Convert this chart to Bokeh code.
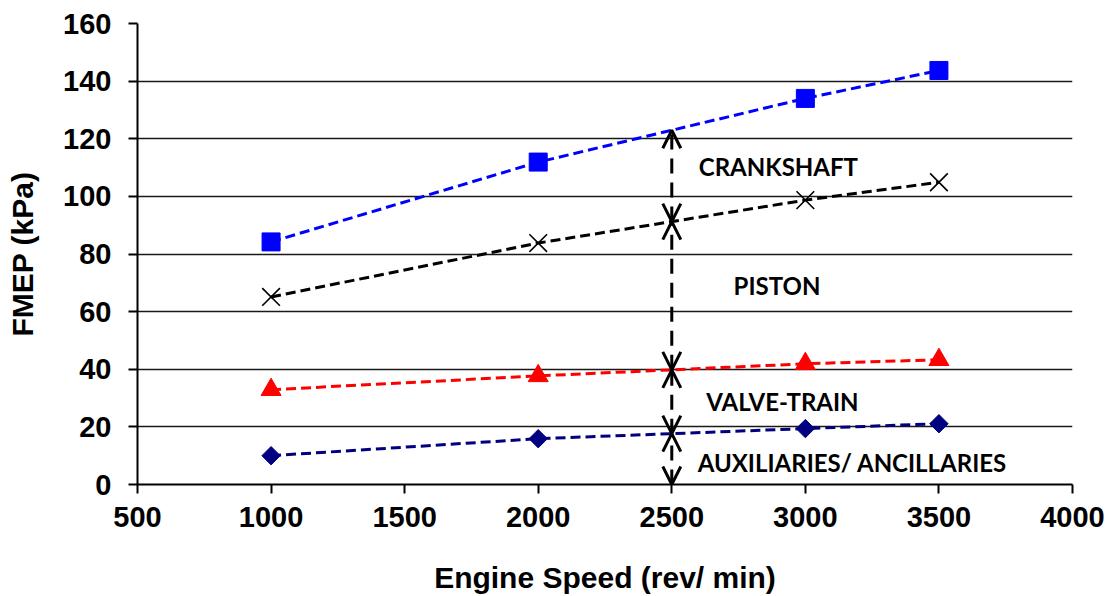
import numpy as np
from bokeh.plotting import figure
from bokeh.models import Arrow, OpenHead, FixedTicker, ColumnDataSource
from bokeh.core.properties import value
from bokeh.embed import file_html
from bokeh.resources import INLINE

# ---- data ----
speed = [1000, 2000, 3000, 3500]
total_fmep = [84.2, 111.9, 134.0, 143.7]       # blue squares (crankshaft top)
piston_fmep = [65.1, 83.8, 98.7, 104.9]         # black crosses
valve_fmep = [32.9, 37.7, 41.9, 43.3]           # red triangles
aux_fmep = [10.0, 15.9, 19.4, 21.1]             # navy diamonds

arrow_speed = 2500
label_text = ["CRANKSHAFT", "PISTON", "VALVE-TRAIN", "AUXILIARIES/ ANCILLARIES"]
label_x = [2899, 2894, 2914, 3176]
label_y = [110.5, 68.9, 28.9, 7.8]

x_ticks = [500, 1000, 1500, 2000, 2500, 3000, 3500, 4000]
y_ticks = [0, 20, 40, 60, 80, 100, 120, 140, 160]
x_title = "Engine Speed (rev/ min)"
y_title = "FMEP (kPa)"

p = figure(width=1111, height=596, x_range=(500, 4000), y_range=(0, 160),
           output_backend="svg", toolbar_location=None,
           min_border_left=137, min_border_right=39, min_border_top=23, min_border_bottom=111)
p.outline_line_color = None
p.background_fill_color = "white"
p.border_fill_color = "white"

# grids
p.xgrid.grid_line_color = None
p.ygrid.grid_line_color = "black"
p.ygrid.grid_line_width = 1.5
p.ygrid.grid_line_alpha = 0.9

tick_font = "Liberation Sans"
for ax in (p.xaxis[0], p.yaxis[0]):
    ax.axis_line_color = "black"
    ax.axis_line_width = 2
    ax.major_tick_line_color = "black"
    ax.major_tick_line_width = 2
    ax.major_tick_in = 0
    ax.major_tick_out = 9
    ax.minor_tick_line_color = None
    ax.major_label_text_font = tick_font
    ax.major_label_text_font_style = "bold"
    ax.major_label_text_font_size = "29px"
    ax.major_label_text_color = "black"
    ax.axis_label_text_font = tick_font
    ax.axis_label_text_font_style = "bold"
    ax.axis_label_text_font_size = "30px"
    ax.axis_label_text_color = "black"

p.xaxis.ticker = FixedTicker(ticks=x_ticks)
p.yaxis.ticker = FixedTicker(ticks=y_ticks)
p.xaxis.major_label_standoff = 13
p.yaxis.major_label_standoff = 17
p.xaxis.axis_label = x_title
p.yaxis.axis_label = y_title
p.xaxis.axis_label_standoff = 31
p.yaxis.axis_label_standoff = 21

series = [
    (total_fmep, "#0000FF", "square", 18, 0),
    (piston_fmep, "black", "x", 25, 0),
    (valve_fmep, "#FF0000", "triangle", 20, 0),
    (aux_fmep, "#000080", "square", 13, np.pi / 4),
]
for ys, col, mk, sz, ang in series:
    p.line(speed, ys, line_color=col, line_width=3, line_dash="10 5")
for ys, col, mk, sz, ang in series:
    if mk == "x":
        p.scatter(speed, ys, marker="x", size=sz, line_color=col, line_width=1.6)
    else:
        p.scatter(speed, ys, marker=mk, size=sz, angle=ang, fill_color=col, line_color=col)

# double-headed arrows at 2500 rev/min between the curves
levels = [0.0] + [float(np.interp(arrow_speed, speed, s)) for s in (aux_fmep, valve_fmep, piston_fmep, total_fmep)]
for lo, hi in zip(levels[:-1], levels[1:]):
    p.add_layout(Arrow(x_start=arrow_speed, y_start=lo, x_end=arrow_speed, y_end=hi,
                       start=OpenHead(size=18, line_width=3, line_color="black"),
                       end=OpenHead(size=18, line_width=3, line_color="black"),
                       line_color="black", line_width=3, line_dash="15 9"))

src = ColumnDataSource(dict(x=label_x, y=label_y, t=label_text))
p.text(x="x", y="y", text="t", source=src, text_font=value("Lato"), text_font_style="bold",
       text_font_size="24px", text_align="center", text_baseline="middle", text_color="black")

open("out.html", "w").write(file_html(p, INLINE))
